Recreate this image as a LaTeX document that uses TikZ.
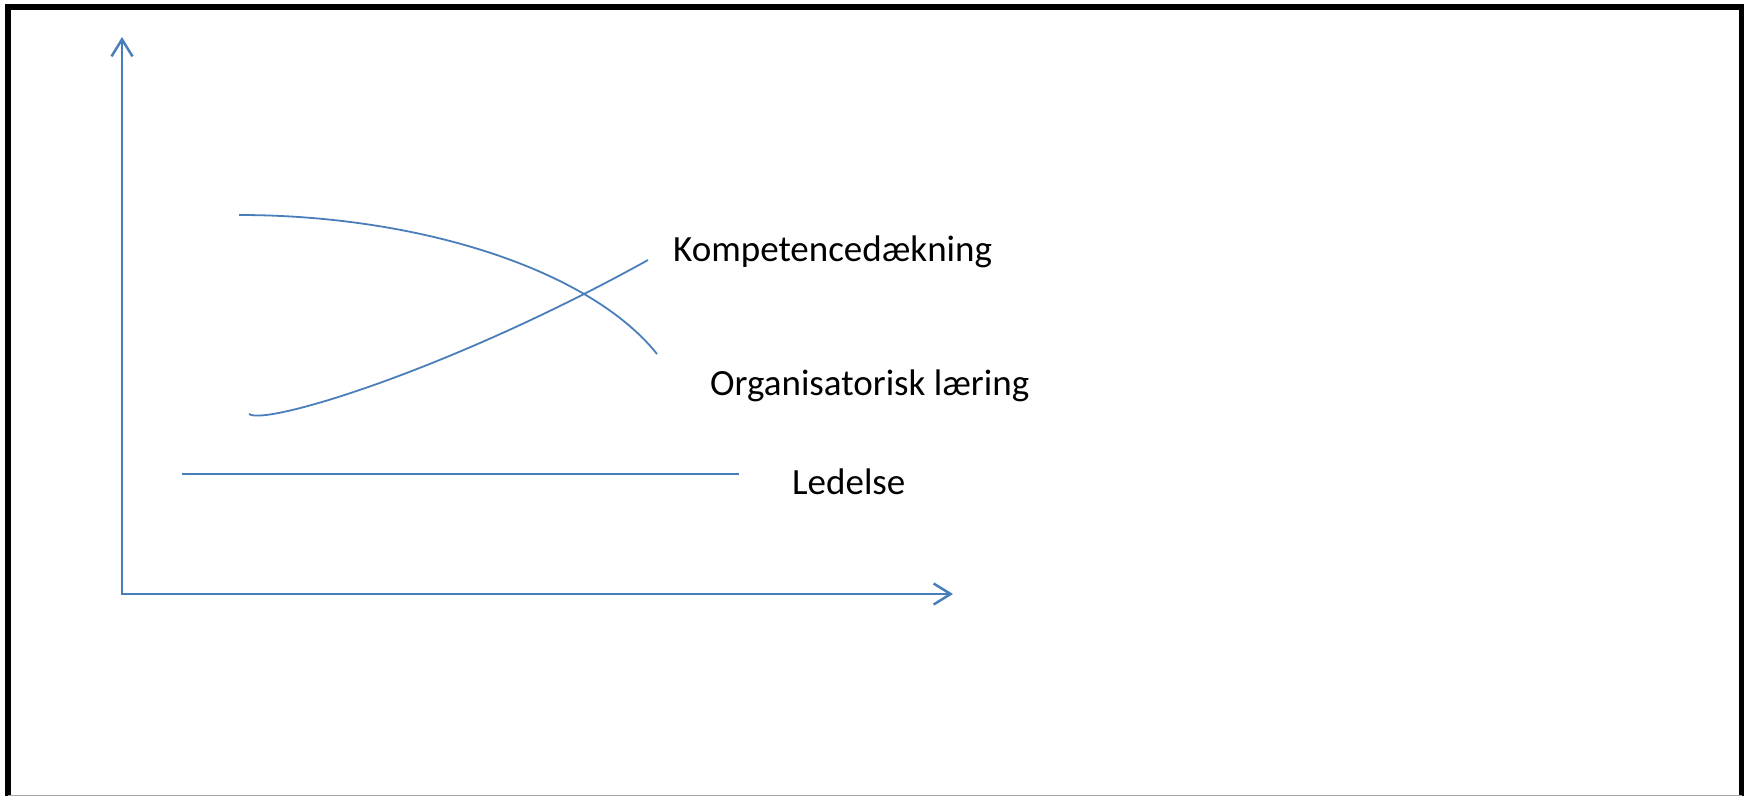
\documentclass[tikz,border=0pt]{standalone}
\usepackage{fontspec}
\setmainfont{Carlito}
\usepackage{xcolor}
\usepackage{tikz}
\usetikzlibrary{arrows.meta}

\definecolor{lineblue}{RGB}{74,126,187}

\begin{document}
\begin{tikzpicture}[
        x=1pt, y=-1pt,
        frame/.style={draw=black, line width=5.5pt},
        axis/.style={draw=lineblue, line width=2.5pt, {Straight Barb[length=17pt,width=21pt]}-{Straight Barb[length=17pt,width=21pt]}},
        curve/.style={draw=lineblue, line width=1.8pt},
        level/.style={draw=lineblue, line width=2.2pt},
        label/.style={anchor=base west, inner sep=0pt, font=\fontsize{37}{44}\selectfont}
    ]
        \useasboundingbox (0,0) rectangle (1746,796);

        % frame
        \draw[frame] (8,796) -- (8,7) -- (1741.5,7) -- (1741.5,796);
        \draw[black!35, line width=1.2pt] (8,795.4) -- (1741.5,795.4);

        % axes
        \coordinate (ytip) at (122,37);
        \coordinate (xtip) at (953,594);
        \draw[axis] (ytip) |- (xtip);

        % curves
        \coordinate (orgstart) at (239,215);
        \coordinate (orgend) at (657,354);
        \coordinate (kompstart) at (249,414);
        \coordinate (kompend) at (648,260);
        \coordinate (ledstart) at (182,474);
        \coordinate (ledend) at (739,474);

        \draw[curve] (orgstart) .. controls (420,215) and (590,270) .. (orgend);
        \draw[curve] (kompstart) .. controls (265,426) and (450,370) .. (kompend);
        \draw[level] (ledstart) -- (ledend);

        \node[label] (komp) at (673,261) {Kompetencedækning};
        \node[label] (org) at (710,395) {Organisatorisk læring};
        \node[label] (led) at (792,494) {Ledelse};
    \end{tikzpicture}
\end{document}
